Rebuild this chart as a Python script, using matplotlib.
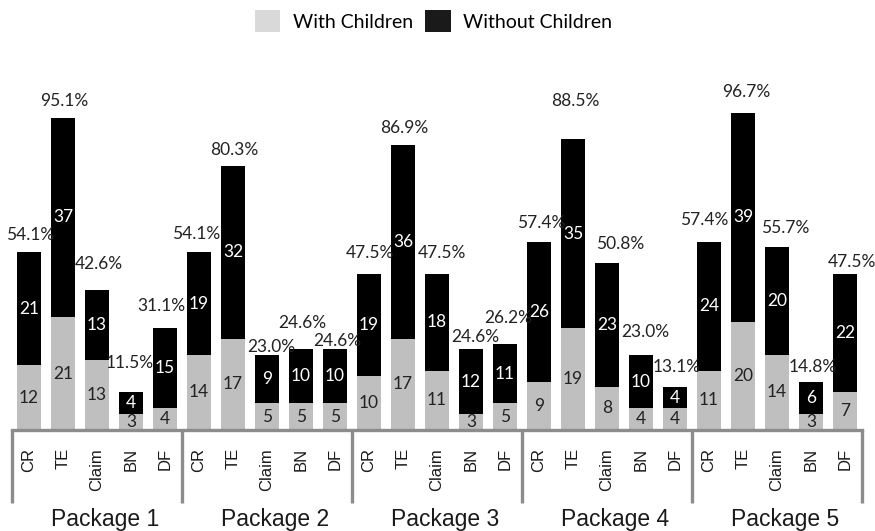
import numpy as np
import matplotlib
matplotlib.use("Agg")
import matplotlib.pyplot as plt
from matplotlib.patches import Patch

packages = ["Package 1", "Package 2", "Package 3", "Package 4", "Package 5"]
measures = ["CR", "TE", "Claim", "BN", "DF"]

# respondent counts per package / measure
with_children = [[12, 21, 13, 3, 4],
                 [14, 17, 5, 5, 5],
                 [10, 17, 11, 3, 5],
                 [9, 19, 8, 4, 4],
                 [11, 20, 14, 3, 7]]
without_children = [[21, 37, 13, 4, 15],
                    [19, 32, 9, 10, 10],
                    [19, 36, 18, 12, 11],
                    [26, 35, 23, 10, 4],
                    [24, 39, 20, 6, 22]]
n_total = 61

# hand placement of the percentage labels (pixels: dx, dy above bar top)
pct_offsets = [(1, 17), (1, 17), (2, 26), (-1, 29), (-4, 22),
               (-3, 18), (1, 16), (4, 8), (1, 26), (2, 8),
               (1, 21), (1, 17), (5, 21), (4, 12), (3, 26),
               (2, 19), (2, 38), (13, 19), (4, 23), (2, 20),
               (-5, 22), (3, 21), (8, 19), (2, 15), (7, 12)]

LIGHT = "#bfbfbf"
DARK = "#000000"
LINE = "#8c8c8c"
NUM_FONT = "Lato"
SANS = "Liberation Sans"

W, H = 875, 531
fig = plt.figure(figsize=(W / 100, H / 100), dpi=100)
ax = fig.add_axes([0, 0, 1, 1])
# 34 px per bar slot, 5.38 px per respondent, baseline at y=430
ax.set_xlim(-29 / 34, (W - 29) / 34)
ax.set_ylim(-(H - 430) / 5.38, 430 / 5.38)
ax.axis("off")

n_groups, n_meas = len(packages), len(measures)
x = np.array([g * n_meas + i for g in range(n_groups) for i in range(n_meas)], dtype=float)
wc = np.array(with_children).ravel()
woc = np.array(without_children).ravel()
tot = wc + woc

b1 = ax.bar(x, wc, width=0.7, color=LIGHT, zorder=2)
b2 = ax.bar(x, woc, bottom=wc, width=0.7, color=DARK, zorder=2)
ax.bar_label(b1, label_type="center", color="#222222", fontsize=12.5, family=NUM_FONT)
ax.bar_label(b2, label_type="center", color="white", fontsize=12.5, family=NUM_FONT)

for xi, t, (dx, dy) in zip(x, tot, pct_offsets):
    ax.annotate(f"{t / n_total * 100:.1f}%", (xi, t), xytext=(dx, dy),
                textcoords="offset pixels", ha="center", va="center",
                fontsize=12.5, family=NUM_FONT, color="#222222")

# category table under the bars
left, right = -0.5, n_groups * n_meas - 0.5
depth = -13.6
ax.plot([left, right], [0, 0], color=LINE, lw=2.4, clip_on=False, zorder=3,
        solid_capstyle="projecting")
for g in range(n_groups + 1):
    gx = g * n_meas - 0.5
    ax.plot([gx, gx], [0, depth], color=LINE, lw=2.4, clip_on=False, zorder=3,
            solid_capstyle="butt")

for xi, i in zip(x, list(range(n_meas)) * n_groups):
    ax.text(xi, -3.35, measures[i], rotation=90, ha="center", va="top",
            fontsize=12, family=SANS, color="#1a1a1a")

for g, name in enumerate(packages):
    ax.text(g * n_meas + 2.25, -17.84, name, ha="center", va="baseline",
            fontsize=16.5, family=SANS, color="#1a1a1a")

handles = [Patch(facecolor="#d9d9d9", label="With Children"),
           Patch(facecolor="#1a1a1a", label="Without Children")]
fig.legend(handles=handles, loc="center", bbox_to_anchor=(433.5 / W, 1 - 21 / H),
           ncol=2, frameon=False, prop={"family": NUM_FONT, "size": 14},
           handlelength=1.3, handleheight=1.3, handletextpad=0.65, columnspacing=0.65)

fig.savefig("out.png", dpi=100)
